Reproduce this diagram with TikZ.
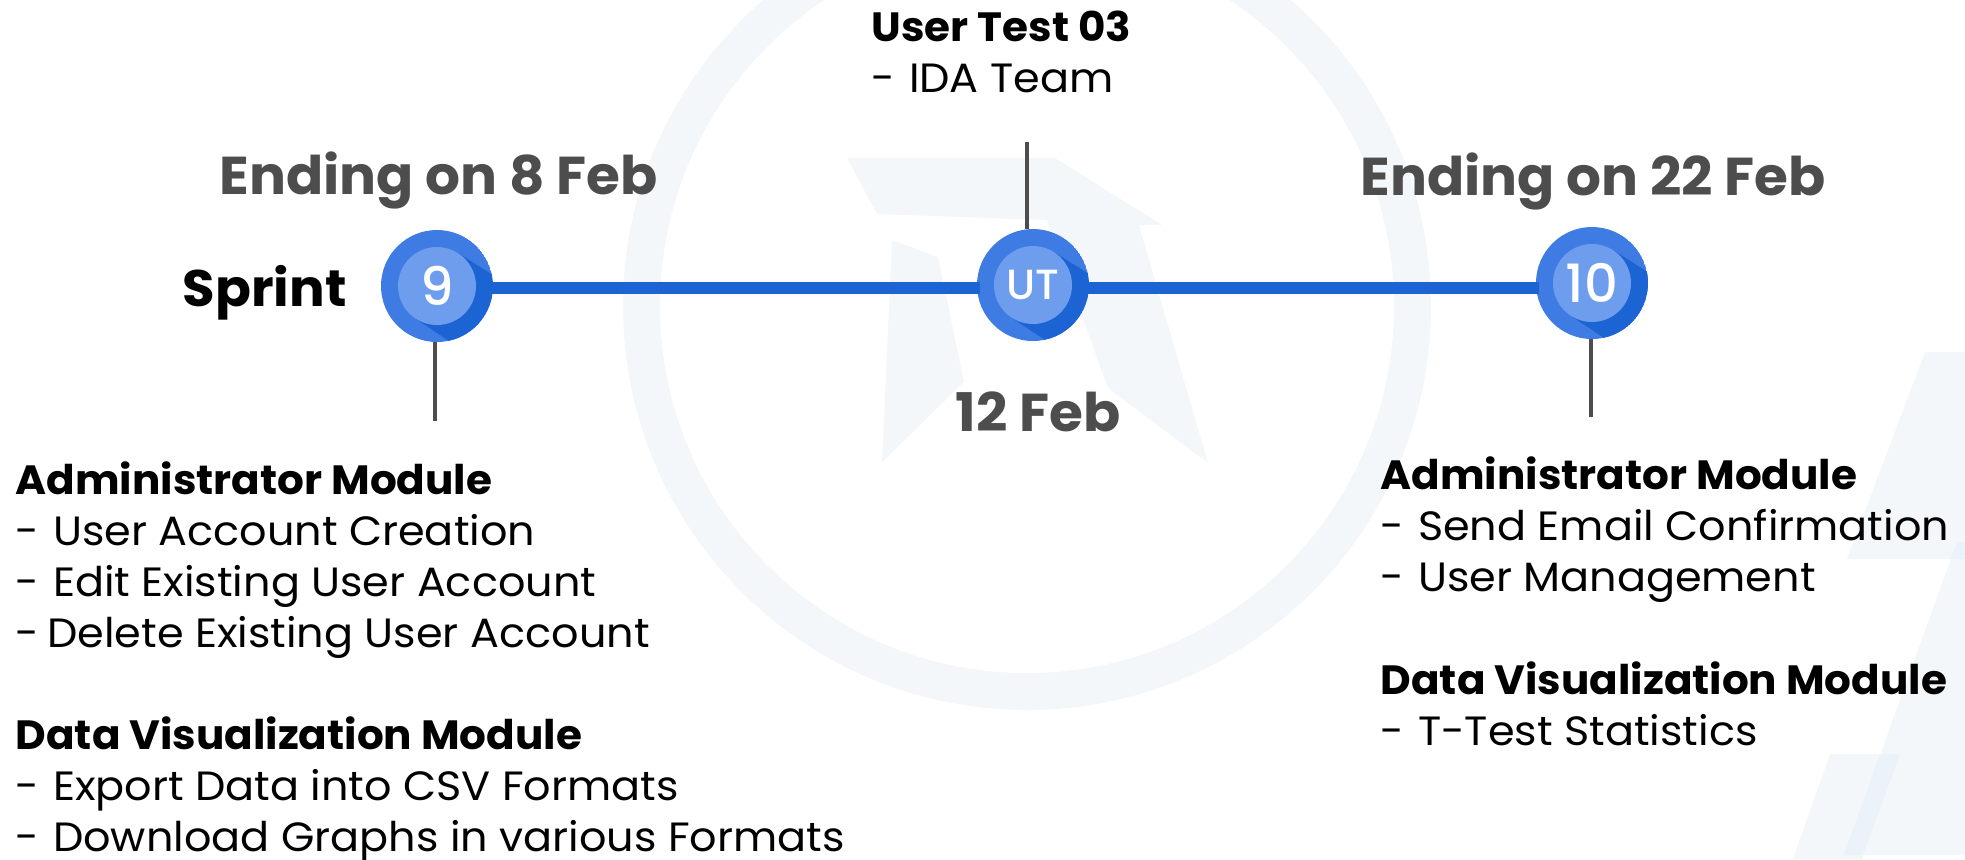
\documentclass[tikz,border=0pt]{standalone}
\usepackage{fontspec}
\setmainfont{Poppins}[FakeStretch=1.05,BoldFeatures={FakeStretch=1.03}]
\newfontfamily\dotfont{Poppins Medium}
\usepackage{tikz}
\definecolor{ghost}{HTML}{F3F7FA}
\definecolor{ghostdark}{HTML}{ECF2F9}
\definecolor{railblue}{HTML}{1C63D3}
\definecolor{dotblue}{HTML}{3E7CE4}
\definecolor{dotlight}{HTML}{6D9DEC}
\definecolor{inkgray}{HTML}{4D4D4D}
\newcommand{\bigtxt}{\fontsize{15.15pt}{18pt}\selectfont\bfseries}
\newcommand{\listtxt}{\fontsize{11.63pt}{14.5pt}\selectfont}
\newcommand{\dashgap}{-\hspace{0.335em}}
\tikzset{
  sprintdot/.style={circle,minimum size=1.12cm,inner sep=0pt,outer sep=0pt,text=white},
  datebig/.style={anchor=base west,inner sep=0pt,text=inkgray,font=\bigtxt},
  listblock/.style={anchor=north west,inner sep=0pt,align=left,text=black,font=\listtxt},
  rail/.style={railblue,line width=0.12cm,shorten >=-1,shorten <=-1},
  stem/.style={inkgray,line width=0.04cm}
}
\begin{document}
\begin{tikzpicture}[x=0.01cm,y=-0.01cm]
\useasboundingbox (0,0) rectangle (1965,859);
\begin{scope}
\clip (0,0) rectangle (1965,859);
\fill[ghost,even odd rule] (1027,306) circle (404) (1027,306) circle (367);
\fill[ghost] (847,158)--(1055,158)--(1162,225)--(1139,225)--(1208,463)--(1108,388)--(1047,220)--(877,214)--cycle;
\fill[ghost] (892,240)--(938,257)--(964,382)--(882,462)--cycle;
\fill[ghost] (1925,352)--(1965,352)--(1965,559)--(1847,559)--cycle;
\fill[ghost] (1957,542)--(1965,542)--(1965,855)--(1844,855)--cycle;
\fill[ghost] (1830,754)--(1900,754)--(1862,859)--(1793,859)--cycle;
\fill[ghostdark] (1880,754)--(1900,754)--(1863,855)--(1844,855)--cycle;
\fill[ghostdark] (1957,542)--(1965,542)--(1965,559)--(1951,559)--cycle;
\end{scope}
\foreach \dotx/\doty in {437/286,1033/285,1592/283}{
\begin{scope}[shift={(\dotx,\doty)}]
  \clip (0,0) circle (56);
  \fill[dotblue] (0,0) circle (56);
  \fill[railblue] (21,-33)--(121,30)--(80,100)--(-21,33)--cycle;
  \fill[dotlight] (0,0) circle (39);
\end{scope}
}
\coordinate (railline) at (0,288);
\coordinate (nineend) at (435,421);
\coordinate (utend) at (1027,142);
\coordinate (tenend) at (1591,417);
\node[sprintdot,font=\dotfont\fontsize{15pt}{17pt}\selectfont] (nine) at (437,286) {9};
\node[sprintdot,font=\dotfont\fontsize{12pt}{14pt}\selectfont] (ut) at (1033,285) {UT};
\node[sprintdot,font=\dotfont\fontsize{15pt}{17pt}\selectfont] (ten) at (1592,283) {10};
\draw[rail] (nine.east |- railline)--(ut.west |- railline);
\draw[rail] (ut.east |- railline)--(ten.west |- railline);
\draw[stem] (nine.south -| nineend)--(nineend);
\draw[stem] (ut.north -| utend)--(utend);
\draw[stem] (ten.south -| tenend)--(tenend);
\node[datebig] (endnine) at (219,194) {Ending on 8 Feb};
\node[datebig] (endten) at (1360,195) {Ending on 22 Feb};
\node[datebig] (utdate) at (955,431) {12 Feb};
\node[datebig,text=black,font=\fontsize{14.6pt}{17pt}\selectfont\bfseries] (sprintword) at (182,306) {Sprint};
\node[listblock] (uttest) at (871,10) {\textbf{User Test 03}\\\dashgap IDA Team};
\node[listblock] (adminnine) at (15,461) {\textbf{Administrator Module}\\\dashgap User Account Creation\\\dashgap Edit Existing User Account\\-\hspace{0.195em}Delete Existing User Account};
\node[listblock] (datanine) at (15,716) {\textbf{Data Visualization Module}\\\dashgap Export Data into CSV Formats\\\dashgap Download Graphs in various Formats};
\node[listblock] (adminten) at (1380,456) {\textbf{Administrator Module}\\\dashgap Send Email Confirmation\\\dashgap User Management};
\node[listblock] (dataten) at (1380,661) {\textbf{Data Visualization Module}\\\dashgap T-Test Statistics};
\end{tikzpicture}
\end{document}
